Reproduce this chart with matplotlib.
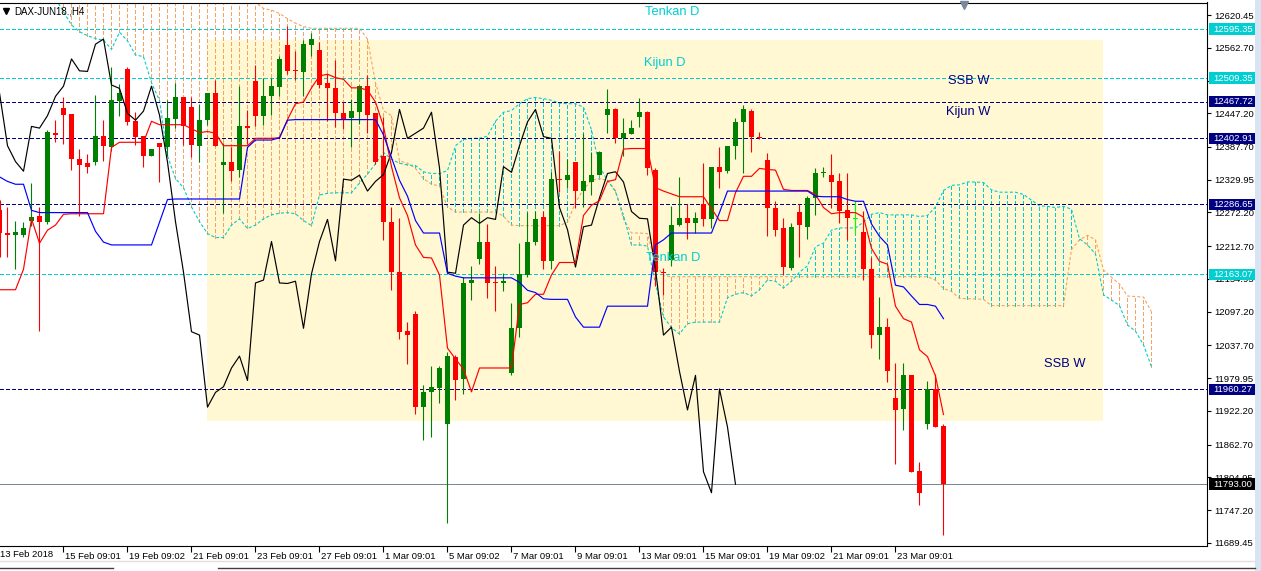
import numpy as np
import matplotlib.pyplot as plt
import matplotlib.transforms as mtransforms
from matplotlib.patches import Rectangle
from matplotlib.lines import Line2D

plt.rcParams['font.family'] = ['Liberation Sans', 'DejaVu Sans']
plt.rcParams['lines.scale_dashes'] = False

# H4 candles, DAX-JUN18 (bar 0 = 13 Feb 09:01)
opens = [12276, 12236, 12232, 12233, 12258, 12266, 12256, 12412, 12456, 12446,
         12367, 12359, 12362, 12407, 12387, 12469, 12525, 12433, 12407, 12372,
         12395, 12387, 12437, 12476, 12458, 12390, 12435, 12483, 12356, 12362,
         12347, 12424, 12504, 12442, 12477, 12494, 12567, 12523, 12520, 12568,
         12558, 12501, 12491, 12448, 12438, 12450, 12495, 12448, 12371, 12256,
         12167, 12064, 12093, 11929, 11956, 11963, 11899, 12018, 11978, 12147,
         12191, 12221, 12149, 12147, 11990, 12068, 12162, 12220, 12265, 12187,
         12331, 12330, 12361, 12310, 12326, 12338, 12444, 12454, 12403, 12411,
         12441, 12449, 12348, 12168, 12189, 12250, 12263, 12253, 12287, 12260,
         12353, 12345, 12390, 12432, 12452, 12405, 12364, 12281, 12244, 12175,
         12273, 12247, 12298, 12342, 12339, 12327, 12276, 12261, 12238, 12173,
         12056, 12070, 11945, 11925, 11985, 11817, 11900, 11961, 11896]
highs = [12294, 12282, 12258, 12256, 12324, 12282, 12417, 12436, 12475, 12446,
         12385, 12376, 12479, 12436, 12528, 12499, 12528, 12449, 12407, 12385,
         12395, 12470, 12501, 12476, 12476, 12464, 12483, 12505, 12395, 12388,
         12495, 12453, 12532, 12509, 12510, 12549, 12601, 12557, 12577, 12589,
         12573, 12516, 12541, 12467, 12473, 12497, 12515, 12448, 12440, 12282,
         12263, 12079, 12099, 11968, 12002, 12002, 12026, 12021, 12159, 12178,
         12271, 12252, 12178, 12165, 12113, 12218, 12273, 12275, 12275, 12344,
         12381, 12367, 12361, 12412, 12378, 12380, 12490, 12456, 12438, 12436,
         12474, 12452, 12350, 12175, 12284, 12334, 12287, 12273, 12359, 12353,
         12387, 12390, 12438, 12462, 12455, 12415, 12377, 12293, 12263, 12253,
         12287, 12301, 12350, 12352, 12376, 12341, 12341, 12293, 12275, 12193,
         12123, 12086, 12007, 12007, 11985, 11833, 11975, 11987, 11900]
lows = [12194, 12194, 12173, 12229, 12249, 12064, 12252, 12396, 12393, 12347,
        12266, 12342, 12356, 12363, 12381, 12443, 12427, 12392, 12353, 12372,
        12326, 12372, 12421, 12392, 12370, 12362, 12427, 12390, 12272, 12327,
        12334, 12393, 12424, 12427, 12444, 12478, 12516, 12505, 12477, 12549,
        12492, 12433, 12423, 12420, 12387, 12429, 12412, 12358, 12224, 12135,
        12050, 12005, 11917, 11871, 11877, 11936, 11725, 11941, 11953, 12118,
        12181, 12122, 12099, 12133, 11985, 12053, 12159, 12215, 12173, 12172,
        12308, 12316, 12281, 12282, 12303, 12338, 12413, 12395, 12372, 12410,
        12423, 12339, 12143, 12127, 12177, 12249, 12226, 12236, 12249, 12244,
        12316, 12342, 12367, 12342, 12379, 12401, 12231, 12231, 12162, 12170,
        12193, 12225, 12267, 12334, 12281, 12253, 12223, 12235, 12153, 12033,
        12013, 11974, 11828, 11889, 11815, 11757, 11891, 11894, 11703]
closes = [12236, 12233, 12238, 12244, 12264, 12256, 12414, 12409, 12444, 12367,
          12356, 12352, 12407, 12390, 12470, 12483, 12432, 12406, 12372, 12385,
          12387, 12438, 12476, 12425, 12391, 12435, 12483, 12390, 12362, 12345,
          12424, 12421, 12443, 12477, 12495, 12543, 12522, 12521, 12569, 12578,
          12497, 12491, 12447, 12435, 12451, 12495, 12444, 12361, 12256, 12167,
          12062, 12056, 11929, 11955, 11965, 11998, 12019, 11976, 12148, 12153,
          12221, 12148, 12147, 12151, 12068, 12164, 12221, 12260, 12187, 12331,
          12329, 12338, 12310, 12327, 12339, 12378, 12454, 12403, 12412, 12421,
          12449, 12351, 12167, 12165, 12250, 12263, 12253, 12263, 12260, 12353,
          12343, 12390, 12432, 12454, 12406, 12403, 12281, 12242, 12176, 12247,
          12250, 12298, 12341, 12344, 12326, 12274, 12262, 12261, 12172, 12056,
          12070, 11992, 11924, 11985, 11815, 11778, 11961, 11894, 11793]

# Ichimoku lines
tenkan = ([12136] * 3 + [12172, 12261, 12218, 12241, 12250, 12269] + [12270] * 5
          + [12387] + [12396] * 4 + [12433] + [12427] * 4
          + [12420, 12413, 12415, 12412] + [12390] * 4 + [12403] * 3
          + [12404, 12436, 12464, 12467, 12492, 12513, 12516, 12510, 12507, 12492,
             12492, 12488, 12467, 12424, 12353, 12298, 12267, 12215, 12193, 12192,
             12162, 12033, 12014, 11996, 11956]
          + [11998] * 5 + [12110, 12113, 12128, 12128, 12162] + [12184] * 3
          + [12267, 12285, 12293, 12327, 12330, 12384] + [12385] * 3
          + [12316, 12310, 12305] + [12300] * 4
          + [12279, 12258, 12258, 12307, 12336, 12336, 12350, 12348, 12347, 12313]
          + [12311] * 3 + [12304, 12281, 12270] + [12272] * 3
          + [12264, 12209, 12186, 12181, 12107, 12085, 12079, 12030, 12018, 11984,
             11916])
kijun = ([12335, 12327, 12322, 12322, 12276] + [12272] * 7 + [12239, 12220]
         + [12215] * 6 + [12255, 12295] + [12296] * 9 + [12387] + [12400] * 3
         + [12404, 12435] + [12436] * 11
         + [12409, 12369, 12329, 12301, 12258] + [12236] * 3 + [12165, 12160]
         + [12157] * 7 + [12149, 12135, 12131, 12120] + [12119] * 3 + [12088]
         + [12070] * 3 + [12107] * 6 + [12215, 12224] + [12236] * 6 + [12272]
         + [12310] * 11 + [12301] + [12300] * 3 + [12295, 12292, 12292]
         + [12252, 12230, 12215, 12144, 12141, 12125, 12110, 12110, 12107, 12085])
span_a = ([12720] * 7 + [12655] * 17 + [12643] * 9
          + [12632, 12629, 12623, 12614, 12606, 12600] + [12597] * 7
          + [12578, 12501, 12452, 12443, 12363, 12359, 12350, 12332, 12322, 12319,
             12282] + [12273] * 6 + [12266, 12250] + [12249] * 6
          + [12255, 12290, 12313, 12329, 12332, 12329, 12311, 12261, 12236, 12236,
             12235, 12181, 12161] + [12159] * 33
          + [12153, 12138, 12133, 12121, 12120, 12120, 12119] + [12108] * 10
          + [12207, 12224, 12232, 12224, 12171, 12158, 12146, 12125, 12124, 12123,
             12097])
span_b = [12700, 12695, 12690, 12685, 12675, 12665, 12657, 12649, 12626, 12603,
          12591, 12584, 12579, 12576, 12560, 12590, 12575, 12550, 12547, 12501,
          12470, 12372, 12332, 12316, 12282, 12256, 12235, 12228, 12228, 12250,
          12261, 12244, 12250, 12261, 12268, 12271, 12272, 12270, 12258, 12249,
          12303, 12306, 12307, 12307, 12307, 12324, 12340, 12358, 12378, 12366,
          12359, 12356, 12355, 12344, 12341, 12341, 12346, 12390, 12401, 12403,
          12403, 12407, 12433, 12449, 12452, 12464, 12473, 12475, 12473, 12470,
          12465, 12464, 12464, 12458, 12418, 12353, 12329, 12309, 12267, 12215,
          12215, 12213, 12147, 12088, 12069, 12058, 12076, 12079, 12079, 12079,
          12079, 12122, 12128, 12131, 12125, 12136, 12153, 12151, 12139, 12151,
          12167, 12178, 12212, 12218, 12241, 12245, 12245, 12245, 12255, 12269,
          12272, 12268, 12268, 12268, 12268, 12265, 12267, 12282, 12311, 12320,
          12321, 12326, 12326, 12325, 12312, 12308, 12308, 12308, 12304, 12294,
          12284, 12283, 12281, 12283, 12278, 12226, 12215, 12199, 12127, 12118,
          12108, 12074, 12063, 12039, 12000]
chikou_shift = 26

# horizontal levels: price, colour of line/box
levels = [12595.35, 12509.35, 12467.72, 12402.91, 12286.65, 12163.07, 11960.27]
level_colors = ['#00CED1', '#00CED1', '#000080', '#000080', '#000080', '#00CED1', '#000080']
bid = 11793.00

y_ticks = [12620.45, 12562.70, 12504.95, 12447.20, 12387.70, 12329.95, 12272.20,
           12212.70, 12154.95, 12097.20, 12037.70, 11979.95, 11922.20, 11862.70,
           11804.95, 11747.20, 11689.45]
x_tick_bars = [8, 16, 24, 32, 40, 48, 56, 64, 72, 80, 88, 96, 104, 112]
x_tick_labels = ['15 Feb 09:01', '19 Feb 09:02', '21 Feb 09:01', '23 Feb 09:01',
                 '27 Feb 09:01', '1 Mar 09:01', '5 Mar 09:02', '7 Mar 09:01',
                 '9 Mar 09:01', '13 Mar 09:01', '15 Mar 09:01', '19 Mar 09:02',
                 '21 Mar 09:01', '23 Mar 09:01']

# chart texts: label, bar (centre), price (baseline), colour
notes = [('Tenkan D', 84.1, 12621, '#00CED1'), ('Kijun D', 83.1, 12531, '#00CED1'),
         ('SSB W', 121.1, 12499, '#000080'), ('Kijun W', 121.1, 12444, '#000080'),
         ('Tenkan D', 84.2, 12187, '#00CED1'), ('SSB W', 133.1, 12000, '#000080')]

CYAN = '#00CED1'
ORANGE = '#F4A460'
DASH = (0, (2.2, 1.5))   # points: about 3 px on / 2 px off
PX = 0.72                # one pixel in points

W, H = 1261, 571
fig = plt.figure(figsize=(W / 100, H / 100), dpi=100)
ax = fig.add_axes([0, 25 / H, 1207 / W, (546 - 2.5) / H])
ax.set_xlim(0.0625, 150.94)
ax.set_ylim(11684.1, 12642.5)

# yellow box
ax.add_patch(Rectangle((26, 11904), 112, 12577 - 11904, facecolor='#FFF8D3',
                       edgecolor='none', zorder=0.5))

# cloud hatch
sa = np.array(span_a, float)
sb = np.array(span_b, float)
xs = np.arange(len(sa))
hcol = [ORANGE if a > b else CYAN for a, b in zip(sa, sb)]
ax.vlines(xs, np.minimum(sa, sb), np.maximum(sa, sb), colors=hcol,
          linewidth=PX, linestyles=[DASH], antialiased=False, zorder=1)
ax.plot(xs, sa, color=ORANGE, lw=0.8, ls=DASH, zorder=1.1)
ax.plot(xs, sb, color=CYAN, lw=0.8, ls=DASH, zorder=1.1)

# horizontal lines
for lv, c in zip(levels, level_colors):
    ax.axhline(lv, color=c, lw=PX, ls=(0, (2.6, 1.5)), antialiased=False, zorder=1.5)
ax.axhline(bid, color='#778899', lw=PX, antialiased=False, zorder=1.5)

# candles
o = np.array(opens, float)
h = np.array(highs, float)
l = np.array(lows, float)
c = np.array(closes, float)
xb = np.arange(len(o))
cols = ['#008000' if cc > oo else ('#FF0000' if cc < oo else '#00FF00')
        for oo, cc in zip(o, c)]
ax.vlines(xb, l, h, colors=cols, lw=0.8, zorder=2)
ax.bar(xb, np.maximum(np.abs(c - o), 1.8), bottom=np.minimum(o, c), width=0.64,
       color=cols, linewidth=0, zorder=2.1)

# ichimoku lines
ax.plot(xb[:len(c) - chikou_shift], c[chikou_shift:], color='black', lw=0.85, zorder=2.5)
ax.plot(xb, tenkan, color='#FF0000', lw=0.85, zorder=2.6)
ax.plot(xb, kijun, color='#0000FF', lw=0.85, zorder=2.6)

for txt, bx, py, col in notes:
    ax.text(bx, py, txt, color=col, fontsize=9.3, ha='center', va='baseline', zorder=4)

# axes styling
ax.spines['left'].set_visible(False)
for s in ['top', 'right', 'bottom']:
    ax.spines[s].set_linewidth(0.8)
ax.yaxis.tick_right()
ax.set_yticks(y_ticks)
ax.set_yticklabels(['%.2f' % v for v in y_ticks])
ax.tick_params(axis='y', direction='out', length=3, width=0.8, pad=2, labelsize=6.8)
ax.set_xticks(x_tick_bars)
ax.set_xticklabels(x_tick_labels)
ax.tick_params(axis='x', direction='out', length=4, width=0.8, pad=0, labelsize=6.8)
offset = mtransforms.ScaledTranslation(2 / 100, 0, fig.dpi_scale_trans)
for lbl in ax.get_xticklabels():
    lbl.set_horizontalalignment('left')
    lbl.set_transform(lbl.get_transform() + offset)
ax.text(0.0, -4 / 543.5, '13 Feb 2018', transform=ax.transAxes, fontsize=6.8,
        ha='left', va='top')

# price boxes on the right
ytr = ax.get_yaxis_transform()
box_h = 11.5 * (12642.5 - 11684.1) / 543.5
for lv, col in list(zip(levels, level_colors)) + [(bid, '#000000')]:
    ax.add_patch(Rectangle((1209 / 1207, lv - box_h / 2), 46 / 1207, box_h,
                           transform=ytr, facecolor=col, edgecolor='none',
                           clip_on=False, zorder=5))
    ax.text(1213 / 1207, lv, '%.2f' % lv, transform=ytr, color='white', fontsize=6.8,
            ha='left', va='center', clip_on=False, zorder=6)

# title and markers
fig.text(14 / W, 1 - 11 / H, 'DAX-JUN18.,H4', fontsize=7, va='center', ha='left')
fig.add_artist(Line2D([6 / W], [1 - 11 / H], marker='v', markersize=4,
                      color='black', transform=fig.transFigure))
fig.add_artist(Line2D([964 / W], [1 - 5 / H], marker='v', markersize=6,
                      color='#778899', transform=fig.transFigure))

# window furniture
fig.patches.append(Rectangle((1255 / W, 0), 6 / W, 1, transform=fig.transFigure,
                             facecolor='#D8E4F3', edgecolor='none'))
fig.add_artist(Line2D([0, 1255 / W], [1 - 561 / H] * 2, color='#E0E0E0', lw=1,
                      transform=fig.transFigure))
fig.add_artist(Line2D([0, 113 / W], [1 - 568 / H] * 2, color='#404040', lw=1,
                      transform=fig.transFigure))
fig.add_artist(Line2D([218 / W, 1255 / W], [1 - 568 / H] * 2, color='#404040', lw=1,
                      transform=fig.transFigure))

fig.savefig('out.png', dpi=100)
